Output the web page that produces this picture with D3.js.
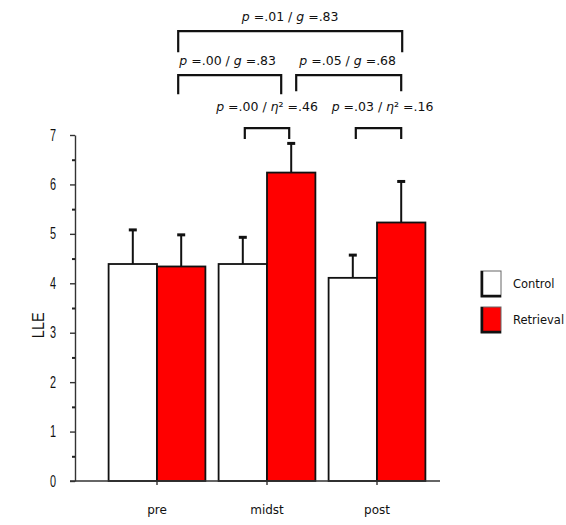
<!DOCTYPE html>
<html>
<head>
<meta charset="utf-8">
<script src="https://cdn.jsdelivr.net/npm/d3@7"></script>
<style>
  body { margin: 0; background: #fff; }
  text { font-family: "DejaVu Sans", Verdana, sans-serif; fill: #111; }
  .ytick text, .ylabel { font-family: "Liberation Sans", Arial, sans-serif; }
</style>
</head>
<body>
<svg id="chart"></svg>
<script>
// Chart size
const width = 566;
const height = 525;

// DATA
const phases = ["pre", "midst", "post"];
const groups = ["Control", "Retrieval"];
const control = [4.39, 4.39, 4.11];
const controlErr = [5.08, 4.93, 4.57];
const retrieval = [4.34, 6.24, 5.23];
const retrievalErr = [4.98, 6.83, 6.06];
const yTicks = [0, 1, 2, 3, 4, 5, 6, 7];
const yMinorTicks = [0.5, 1.5, 2.5, 3.5, 4.5, 5.5, 6.5];

// significance brackets: endpoints are [phase, group], level in y units
const brackets = [
    { from: ["pre", "Retrieval"], to: ["post", "Retrieval"], level: 9.1, text: ["p", " =.01 / ", "g", " =.83"] },
    { from: ["pre", "Retrieval"], to: ["midst", "Retrieval"], level: 8.21, text: ["p", " =.00 / ", "g", " =.83"] },
    { from: ["midst", "Retrieval"], to: ["post", "Retrieval"], level: 8.21, text: ["p", " =.05 / ", "g", " =.68"] },
    { from: ["midst", "Control"], to: ["midst", "Retrieval"], level: 7.14, text: ["p", " =.00 / ", "η", "² =.46"] },
    { from: ["post", "Control"], to: ["post", "Retrieval"], level: 7.14, text: ["p", " =.03 / ", "η", "² =.16"] }
];
// small pixel nudges for bracket ends, drop length and label offset
const bracketStyle = [
    { dx1: -3, dx2: 1, drop: 21, ty: -10, tdx: 0 },
    { dx1: -3, dx2: -10, drop: 19, ty: -10, tdx: -2 },
    { dx1: 5, dx2: 0, drop: 16, ty: -10, tdx: -1 },
    { dx1: 2, dx2: -2, drop: 11, ty: -17, tdx: 0 },
    { dx1: 3, dx2: 0, drop: 11, ty: -17, tdx: 4 }
];

const data = phases.map((p, i) => ({
    phase: p,
    values: [
        { group: "Control", value: control[i], err: controlErr[i] },
        { group: "Retrieval", value: retrieval[i], err: retrievalErr[i] }
    ]
}));

const color = d3.scaleOrdinal().domain(groups).range(["#ffffff", "#ff0000"]);

// Scales
const y = d3.scaleLinear().domain([0, 7]).range([481, 135]);

const x0 = d3.scaleBand()
    .domain(phases)
    .range([102, 432])
    .paddingInner(0.12)
    .paddingOuter(0.06);

const x1 = d3.scaleBand()
    .domain(groups)
    .range([0, x0.bandwidth()]);

const cx = (p, g) => x0(p) + x1(g) + x1.bandwidth() / 2;

const svg = d3.select("#chart")
    .attr("width", width)
    .attr("height", height)
    .attr("viewBox", [0, 0, width, height]);

// Bars
const bars = svg.append("g")
    .selectAll("g")
    .data(data)
    .join("g")
    .attr("transform", d => `translate(${x0(d.phase)},0)`);

// error bars (drawn first so the bar covers the lower part)
bars.selectAll("g.err")
    .data(d => d.values)
    .join("g")
    .attr("class", "err")
    .attr("stroke", "#111")
    .call(g => g.append("line")
        .attr("x1", d => x1(d.group) + x1.bandwidth() / 2)
        .attr("x2", d => x1(d.group) + x1.bandwidth() / 2)
        .attr("y1", d => y(d.value))
        .attr("y2", d => y(d.err))
        .attr("stroke-width", 2))
    .call(g => g.append("line")
        .attr("x1", d => x1(d.group) + x1.bandwidth() / 2 - 4)
        .attr("x2", d => x1(d.group) + x1.bandwidth() / 2 + 4)
        .attr("y1", d => y(d.err))
        .attr("y2", d => y(d.err))
        .attr("stroke-width", 3));

bars.selectAll("rect")
    .data(d => d.values)
    .join("rect")
    .attr("x", d => x1(d.group))
    .attr("y", d => y(d.value))
    .attr("width", x1.bandwidth())
    .attr("height", d => y(0) - y(d.value))
    .attr("fill", d => color(d.group))
    .attr("stroke", "#111")
    .attr("stroke-width", 1.8);

// Y axis, major ticks (labels in a narrow face)
const squeeze = 0.68;
svg.append("g")
    .attr("class", "ytick")
    .attr("transform", "translate(75,0)")
    .call(d3.axisLeft(y).tickValues(yTicks).tickFormat(d3.format("d")).tickSize(5).tickSizeOuter(0).tickPadding(14))
    .call(g => g.selectAll("text")
        .attr("font-size", 16)
        .attr("fill", "#111")
        .attr("x", -19 / squeeze)
        .attr("transform", `scale(${squeeze},1)`))
    .call(g => g.selectAll("line").attr("stroke", "#333").attr("stroke-width", 1.4))
    .call(g => g.select(".domain").attr("stroke", "#333").attr("stroke-width", 1.4));

// minor ticks
svg.append("g")
    .attr("transform", "translate(75,0)")
    .call(d3.axisLeft(y).tickValues(yMinorTicks).tickFormat("").tickSize(3).tickSizeOuter(0))
    .call(g => g.select(".domain").remove())
    .call(g => g.selectAll("line").attr("stroke", "#222").attr("stroke-width", 2));

// baseline
svg.append("line")
    .attr("x1", 70)
    .attr("x2", 440)
    .attr("y1", y(0))
    .attr("y2", y(0))
    .attr("stroke", "#333")
    .attr("stroke-width", 1.4);

// X axis
svg.append("g")
    .attr("transform", `translate(0,${y(0)})`)
    .call(d3.axisBottom(x0).tickSize(4).tickSizeOuter(0).tickPadding(20))
    .call(g => g.select(".domain").remove())
    .call(g => g.selectAll("line").attr("stroke", "#333").attr("stroke-width", 1.4))
    .call(g => g.selectAll("text")
        .attr("font-family", "DejaVu Sans, Verdana, sans-serif")
        .attr("font-size", 12)
        .attr("fill", "#111"));

// Y label
svg.append("text")
    .attr("class", "ylabel")
    .attr("transform", `translate(44,${y(3.15)}) rotate(-90) scale(0.85,1)`)
    .attr("text-anchor", "middle")
    .attr("font-size", 17)
    .attr("fill", "#222")
    .text("LLE");

// Brackets
brackets.forEach((b, i) => {
    const s = bracketStyle[i];
    const xa = cx(b.from[0], b.from[1]) + s.dx1;
    const xb = cx(b.to[0], b.to[1]) + s.dx2;
    const yl = y(b.level);
    svg.append("path")
        .attr("d", `M${xa},${yl + s.drop}V${yl}H${xb}V${yl + s.drop}`)
        .attr("fill", "none")
        .attr("stroke", "#111")
        .attr("stroke-width", 2.2);
    const t = svg.append("text")
        .attr("x", (xa + xb) / 2 + s.tdx)
        .attr("y", yl + s.ty)
        .attr("text-anchor", "middle")
        .attr("font-size", 12.5);
    b.text.forEach((part, j) => {
        t.append("tspan")
            .attr("font-style", j % 2 === 0 ? "italic" : "normal")
            .text(part);
    });
});

// Legend
const legend = svg.append("g")
    .selectAll("g")
    .data(groups)
    .join("g")
    .attr("transform", (d, i) => `translate(481,${271 + i * 36})`);

legend.append("rect")
    .attr("width", 20)
    .attr("height", 26)
    .attr("fill", d => color(d))
    .attr("stroke", "#666")
    .attr("stroke-width", 1);

legend.append("path")
    .attr("d", "M1,0V25H20")
    .attr("fill", "none")
    .attr("stroke", "#111")
    .attr("stroke-width", 2.5);

legend.append("text")
    .attr("x", 32)
    .attr("y", 13)
    .attr("dy", "0.35em")
    .attr("font-size", 11.5)
    .text(d => d);
</script>
</body>
</html>
